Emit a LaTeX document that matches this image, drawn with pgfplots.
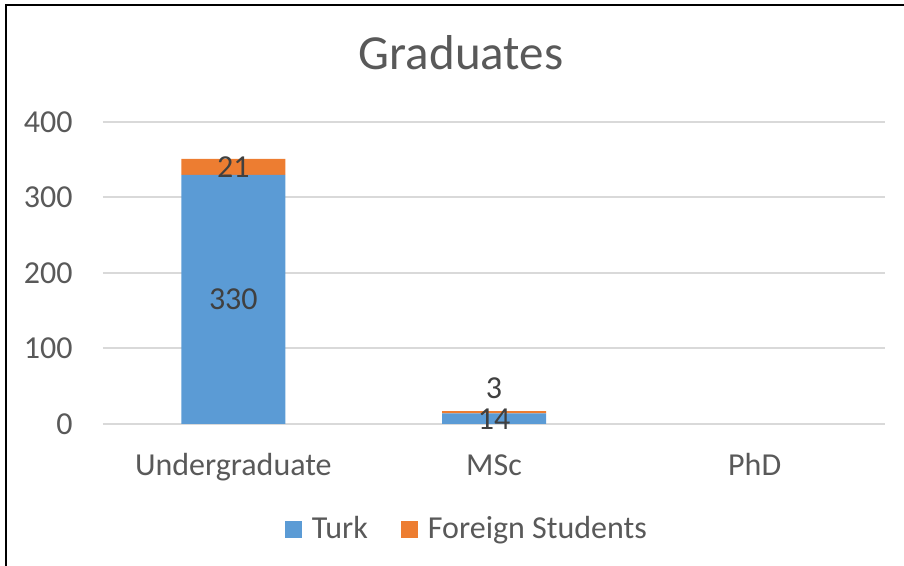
\documentclass[border=0pt]{standalone}
\usepackage{pgfplots}
\pgfplotsset{compat=1.18}
\usepackage{fontspec}
\setmainfont{Carlito}
\definecolor{turk}{HTML}{5B9BD5}
\definecolor{foreign}{HTML}{ED7D31}
\definecolor{txt}{HTML}{595959}
\definecolor{lbl}{HTML}{404040}
\definecolor{grid}{HTML}{D9D9D9}
\begin{document}
\begin{tikzpicture}
\useasboundingbox (0,0) rectangle (452pt,283pt);
\draw[black, line width=1pt] (3pt,0) -- (3pt,280.3pt) -- (452pt,280.3pt);
\node[anchor=base, text=txt, font=\fontsize{24.5}{29}\selectfont] at (230.5pt,248pt) {Graduates};
\begin{axis}[
  at={(51.5pt,71pt)}, anchor=south west,
  scale only axis, width=391pt, height=151pt,
  ybar stacked, bar width=52pt,
  xmin=-0.5, xmax=2.5, ymin=0, ymax=400,
  xtick={0,1,2}, xticklabels={Undergraduate,MSc,PhD},
  ytick={0,100,200,300,400},
  axis lines*=left,
  x axis line style={draw=grid, line width=1pt, -},
  y axis line style={draw=none, -},
  ymajorgrids, grid style={draw=grid, line width=1pt},
  major tick length=0pt,
  /pgf/number format/assume math mode=true,
  tick label style={text=txt, font=\fontsize{16}{19}\selectfont},
  xticklabel style={anchor=base, yshift=-26pt},
  yticklabel style={anchor=east, inner sep=0pt, xshift=-15pt},
  legend image code/.code={\fill[#1] (0pt,-4.25pt) rectangle (8.5pt,4.25pt);},
  legend style={at={(0.464,-0.348)}, anchor=center, draw=none, fill=none,
    legend columns=2, inner sep=0pt,
    nodes={inner sep=0pt, text=txt, font=\fontsize{16}{19}\selectfont},
    /tikz/every odd column/.append style={column sep=5pt},
    /tikz/every even column/.append style={column sep=16.5pt}},
]
\addplot[fill=turk, draw=none] coordinates {(0,330) (1,14) (2,0)};
\addplot[fill=foreign, draw=none] coordinates {(0,21) (1,3) (2,0)};
\legend{Turk, Foreign Students}
\end{axis}
\begin{axis}[
  at={(51.5pt,71pt)}, anchor=south west,
  scale only axis, width=391pt, height=151pt,
  xmin=-0.5, xmax=2.5, ymin=0, ymax=400,
  hide axis,
]
\addplot[only marks, mark=none, point meta=explicit symbolic,
  nodes near coords={\pgfplotspointmeta}, nodes near coords align={center},
  every node near coord/.append style={text=lbl, font=\fontsize{16}{19}\selectfont, inner sep=0pt}]
  coordinates {(0,165)[330] (0,340.5)[21] (1,7)[14] (1,47)[3]};
\end{axis}
\end{tikzpicture}
\end{document}
